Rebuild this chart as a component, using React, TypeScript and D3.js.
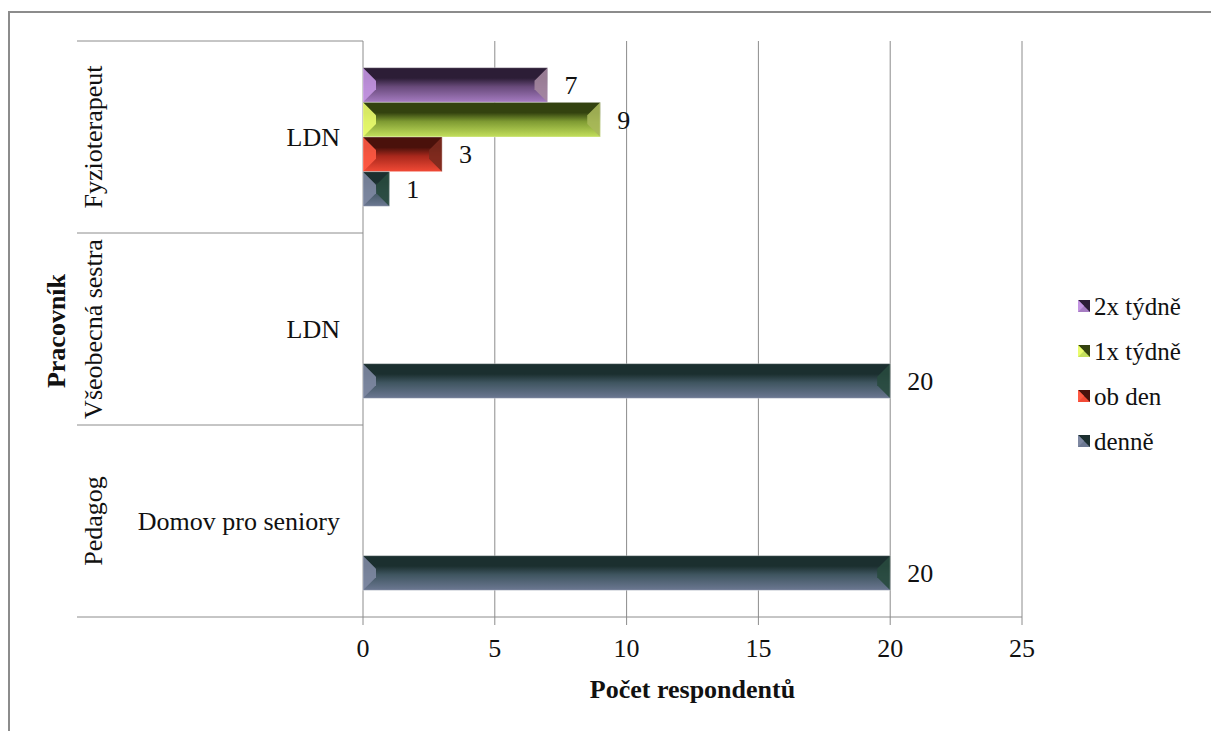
import React, { useEffect, useRef } from "react";
import * as d3 from "d3";

// Categories: place (inner label) and role (outer, rotated label)
const places = ["LDN", "LDN", "Domov pro seniory"];
const roles = ["Fyzioterapeut", "Všeobecná sestra", "Pedagog"];

// Series, listed top to bottom within each category
const seriesNames = ["2x týdně", "1x týdně", "ob den", "denně"];
const twiceWeekly = [7, null, null];
const onceWeekly = [9, null, null];
const everyOtherDay = [3, null, null];
const daily = [1, 20, 20];
const seriesValues = [twiceWeekly, onceWeekly, everyOtherDay, daily];

const xTicks = [0, 5, 10, 15, 20, 25];

const palette = [
  { top: "#2c1d36", mid: "#684a7a", bottom: "#a67cc2", left: "#c496e2", right: "#a4879e" },
  { top: "#33420f", mid: "#7e9a32", bottom: "#c4e05c", left: "#eafc6e", right: "#a8b85a" },
  { top: "#4a110b", mid: "#a8281c", bottom: "#f24a36", left: "#ff5a44", right: "#7a2a1e" },
  { top: "#1b2f2f", mid: "#3f5560", bottom: "#6c7892", left: "#7e88a2", right: "#284a3e" },
];

export default function App() {
  const ref = useRef<SVGSVGElement | null>(null);

  useEffect(() => {
    const svg = d3.select(ref.current);
    svg.selectAll("*").remove();
    const font = "'Liberation Serif', 'Times New Roman', serif";
    const grey = "#8c8c8c";
    const fs = 26;

    const plotLeft = 363;
    const plotRight = 1022;
    const plotTop = 41;
    const plotBottom = 617;
    const labelLeft = 77;

    const x = d3.scaleLinear().domain([0, 25]).range([plotLeft, plotRight]);
    const yGroup = d3
      .scaleBand<number>()
      .domain(d3.range(places.length))
      .range([plotTop, plotBottom])
      .padding(0);
    const ySeries = d3
      .scaleBand<number>()
      .domain(d3.range(seriesNames.length))
      .range([0, yGroup.bandwidth()])
      .paddingInner(0)
      .paddingOuter(0.77);

    // Outer frame
    svg
      .append("rect")
      .attr("x", 9)
      .attr("y", 12)
      .attr("width", 1210)
      .attr("height", 730)
      .attr("fill", "#fff")
      .attr("stroke", grey)
      .attr("stroke-width", 2);

    // Gradients for bars
    const defs = svg.append("defs");
    palette.forEach((c, i) => {
      const g = defs
        .append("linearGradient")
        .attr("id", `bar-grad-${i}`)
        .attr("x1", 0)
        .attr("y1", 0)
        .attr("x2", 0)
        .attr("y2", 1);
      g.append("stop").attr("offset", "0%").attr("stop-color", c.top);
      g.append("stop").attr("offset", "30%").attr("stop-color", c.top);
      g.append("stop").attr("offset", "55%").attr("stop-color", c.mid);
      g.append("stop").attr("offset", "100%").attr("stop-color", c.bottom);
    });

    // Vertical gridlines
    svg
      .append("g")
      .selectAll("line")
      .data(xTicks.slice(1))
      .join("line")
      .attr("x1", (d) => x(d))
      .attr("x2", (d) => x(d))
      .attr("y1", plotTop)
      .attr("y2", plotBottom)
      .attr("stroke", grey)
      .attr("stroke-width", 1);

    // Category separators
    const bounds = [plotTop, ...d3.range(places.length).map((i) => (yGroup(i) as number) + yGroup.bandwidth())];
    svg
      .append("g")
      .selectAll("line")
      .data(bounds)
      .join("line")
      .attr("x1", labelLeft)
      .attr("x2", (d) => (d === plotBottom ? plotRight : plotLeft))
      .attr("y1", (d) => d)
      .attr("y2", (d) => d)
      .attr("stroke", grey)
      .attr("stroke-width", 1);

    // Value axis ticks + vertical axis line
    svg
      .append("line")
      .attr("x1", plotLeft)
      .attr("x2", plotLeft)
      .attr("y1", plotTop)
      .attr("y2", plotBottom)
      .attr("stroke", grey);
    svg
      .append("g")
      .selectAll("line")
      .data(xTicks)
      .join("line")
      .attr("x1", (d) => x(d))
      .attr("x2", (d) => x(d))
      .attr("y1", plotBottom)
      .attr("y2", plotBottom + 8)
      .attr("stroke", grey);
    svg
      .append("g")
      .selectAll("text")
      .data(xTicks)
      .join("text")
      .attr("x", (d) => x(d))
      .attr("y", 657)
      .attr("text-anchor", "middle")
      .attr("font-family", font)
      .attr("font-size", fs)
      .attr("fill", "#111")
      .text((d) => d);

    // Bars
    const barsG = svg.append("g");
    seriesValues.forEach((vals, si) => {
      const c = palette[si];
      vals.forEach((v, gi) => {
        if (v == null) return;
        const y0 = (yGroup(gi) as number) + (ySeries(si) as number);
        const h = ySeries.bandwidth();
        const x0 = x(0);
        const x1 = x(v);
        const w = x1 - x0;
        const b = Math.min(13, w / 2, h / 2);
        const y1 = y0 + h;
        const g = barsG.append("g");
        g.append("rect")
          .attr("x", x0)
          .attr("y", y0)
          .attr("width", w)
          .attr("height", h)
          .attr("fill", `url(#bar-grad-${si})`);
        g.append("polygon")
          .attr("points", [
            [x0, y0],
            [x0 + b, y0 + b],
            [x0 + b, y1 - b],
            [x0, y1],
          ].map((p) => p.join(",")).join(" "))
          .attr("fill", c.left)
          .attr("opacity", 0.9);
        g.append("polygon")
          .attr("points", [
            [x1, y0],
            [x1 - b, y0 + b],
            [x1 - b, y1 - b],
            [x1, y1],
          ].map((p) => p.join(",")).join(" "))
          .attr("fill", c.right)
          .attr("opacity", 0.9);
        g.append("rect")
          .attr("x", x0)
          .attr("y", y0)
          .attr("width", w)
          .attr("height", h)
          .attr("fill", "none")
          .attr("stroke", "#ffffff")
          .attr("stroke-opacity", 0.35)
          .attr("stroke-width", 1);
        g.append("text")
          .attr("x", x1 + 17)
          .attr("y", y0 + h / 2 + 9)
          .attr("font-family", font)
          .attr("font-size", fs)
          .attr("fill", "#111")
          .text(v);
      });
    });

    // Inner category labels (place)
    svg
      .append("g")
      .selectAll("text")
      .data(places)
      .join("text")
      .attr("x", 340)
      .attr("y", (_, i) => (yGroup(i) as number) + yGroup.bandwidth() / 2 + 9)
      .attr("text-anchor", "end")
      .attr("font-family", font)
      .attr("font-size", fs)
      .attr("fill", "#111")
      .text((d) => d);

    // Outer category labels (role), rotated
    svg
      .append("g")
      .selectAll("text")
      .data(roles)
      .join("text")
      .attr("transform", (_, i) => `translate(102, ${(yGroup(i) as number) + yGroup.bandwidth() / 2}) rotate(-90)`)
      .attr("text-anchor", "middle")
      .attr("font-family", font)
      .attr("font-size", fs)
      .attr("fill", "#111")
      .text((d) => d);

    // Axis titles
    svg
      .append("text")
      .attr("transform", `translate(65, 331) rotate(-90)`)
      .attr("text-anchor", "middle")
      .attr("font-family", font)
      .attr("font-size", fs)
      .attr("font-weight", "bold")
      .attr("fill", "#111")
      .text("Pracovník");
    svg
      .append("text")
      .attr("x", (plotLeft + plotRight) / 2)
      .attr("y", 698)
      .attr("text-anchor", "middle")
      .attr("font-family", font)
      .attr("font-size", fs)
      .attr("font-weight", "bold")
      .attr("fill", "#111")
      .text("Počet respondentů");

    // Legend
    const legend = svg.append("g");
    seriesNames.forEach((name, i) => {
      const c = palette[i];
      const ly = 306 + i * 45;
      const lx = 1078;
      const s = 12;
      const item = legend.append("g");
      item.append("rect").attr("x", lx).attr("y", ly - s / 2).attr("width", s).attr("height", s).attr("fill", c.bottom);
      item
        .append("polygon")
        .attr("points", `${lx},${ly - s / 2} ${lx + s},${ly - s / 2} ${lx + s},${ly + s / 2}`)
        .attr("fill", c.top);
      item
        .append("polygon")
        .attr("points", `${lx},${ly - s / 2} ${lx + s / 2},${ly} ${lx},${ly + s / 2}`)
        .attr("fill", c.left);
      item
        .append("text")
        .attr("x", lx + 16)
        .attr("y", ly + 9)
        .attr("font-family", font)
        .attr("font-size", 25)
        .attr("fill", "#111")
        .text(name);
    });
  }, []);

  return (
    <svg
      ref={ref}
      width={1211}
      height={731}
      style={{ position: "absolute", left: 0, top: 0, display: "block" }}
    />
  );
}
